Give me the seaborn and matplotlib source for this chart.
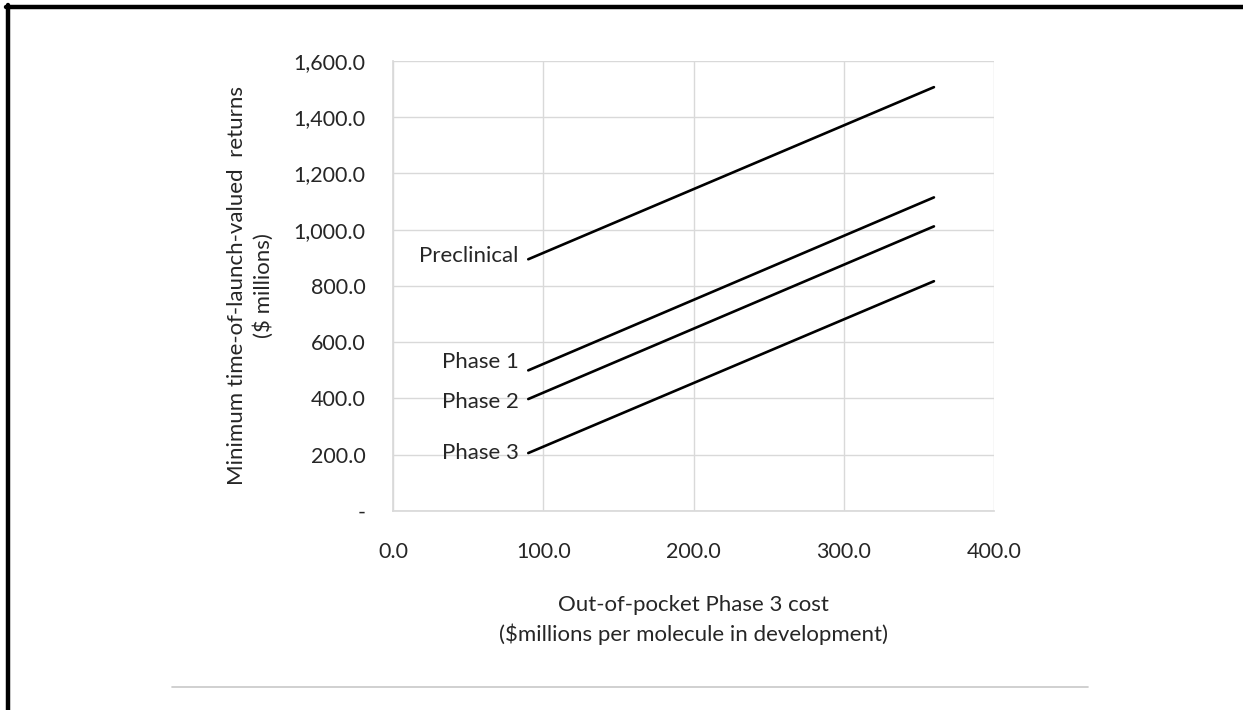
import matplotlib
matplotlib.use("Agg")
import matplotlib.pyplot as plt
import matplotlib.ticker as mticker
from matplotlib.lines import Line2D
import seaborn as sns
import pandas as pd

# Data
phase3_cost = [90.0, 360.0]
preclinical = [895.0, 1507.0]
phase_1 = [500.0, 1115.0]
phase_2 = [398.0, 1012.0]
phase_3 = [206.0, 817.0]
series_names = ["Preclinical", "Phase 1", "Phase 2", "Phase 3"]
x_ticks = [0, 100, 200, 300, 400]
y_ticks = [0, 200, 400, 600, 800, 1000, 1200, 1400, 1600]

series_values = [preclinical, phase_1, phase_2, phase_3]
rows = []
for name, vals in zip(series_names, series_values):
    for x, y in zip(phase3_cost, vals):
        rows.append({"cost": x, "returns": y, "stage": name})
df = pd.DataFrame(rows)

sns.set_theme(style="white")
plt.rcParams["font.family"] = ["Lato", "DejaVu Sans"]

fig = plt.figure(figsize=(12.43, 7.10), dpi=100)
ax = fig.add_axes([0.3162, 0.2803, 0.4835, 0.6338])

sns.lineplot(data=df, x="cost", y="returns", hue="stage",
             palette=["black"] * 4, linewidth=1.9, legend=False, ax=ax)

ax.set_xlim(0, 400)
ax.set_ylim(0, 1600)
ax.set_xticks(x_ticks)
ax.set_yticks(y_ticks)
ax.xaxis.set_major_formatter(mticker.FuncFormatter(lambda v, p: f"{v:,.1f}"))
ax.yaxis.set_major_formatter(mticker.FuncFormatter(lambda v, p: "-" if v == 0 else f"{v:,.1f}"))
ax.grid(True, color="#d9d9d9", linewidth=1.0)
for s in ax.spines.values():
    s.set_visible(False)
ax.spines["left"].set_visible(True)
ax.spines["left"].set_color("#d9d9d9")
ax.spines["bottom"].set_visible(True)
ax.spines["bottom"].set_color("#d9d9d9")
ax.tick_params(axis="both", length=0, labelsize=15.5, colors="#262626")
ax.tick_params(axis="y", pad=20)
ax.tick_params(axis="x", pad=22)

ax.set_xlabel("Out-of-pocket Phase 3 cost\n($millions per molecule in development)",
              fontsize=16, color="#262626", labelpad=24, linespacing=1.5)
ax.set_ylabel("Minimum time-of-launch-valued  returns\n($ millions)",
              fontsize=16, color="#262626", labelpad=14, linespacing=1.35)

# Series labels left of each line start
offsets = {"Preclinical": 2, "Phase 1": 6, "Phase 2": -2, "Phase 3": 0}
for name, vals in zip(series_names, series_values):
    ax.annotate(name, xy=(phase3_cost[0], vals[0]), xytext=(-7, offsets[name]),
                textcoords="offset points", ha="right", va="center",
                fontsize=16, color="#262626")

# Frame decorations
fig.add_artist(Line2D([6 / 1243, 1.0], [1 - 7 / 710, 1 - 7 / 710], color="black",
                      linewidth=3.2, transform=fig.transFigure))
fig.add_artist(Line2D([8 / 1243, 8 / 1243], [0, 1 - 5 / 710], color="black",
                      linewidth=3.2, transform=fig.transFigure))
fig.add_artist(Line2D([172 / 1243, 1088 / 1243], [1 - 687 / 710, 1 - 687 / 710],
                      color="#c8c8c8", linewidth=1.2, transform=fig.transFigure))

fig.savefig("out.png", dpi=100)
